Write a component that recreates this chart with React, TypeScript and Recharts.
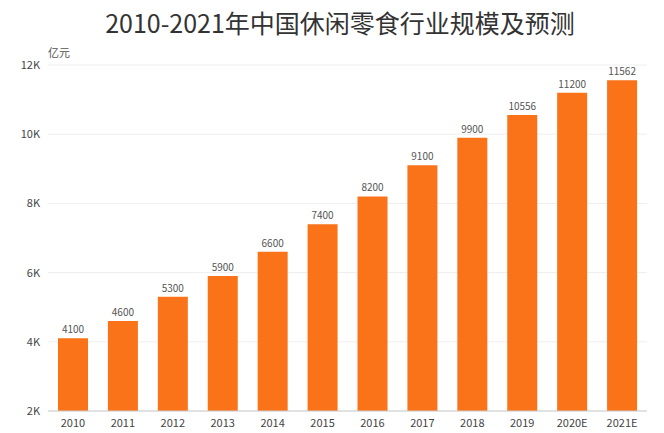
import { BarChart, Bar, XAxis, YAxis, CartesianGrid, LabelList } from 'recharts';

const years = ['2010', '2011', '2012', '2013', '2014', '2015', '2016', '2017', '2018', '2019', '2020E', '2021E'];
const scale = [4100, 4600, 5300, 5900, 6600, 7400, 8200, 9100, 9900, 10556, 11200, 11562];
const yTicks = [2000, 4000, 6000, 8000, 10000, 12000];

const data = years.map((y, i) => ({ year: y, value: scale[i] }));

export default function App() {
  return (
    <div style={{ position: 'absolute', left: 0, top: 0, width: 664, height: 433, background: '#fff', fontFamily: '"Noto Sans CJK SC", "Noto Sans", sans-serif' }}>
      <div style={{ position: 'absolute', top: 4, left: 0, width: 680, textAlign: 'center', fontSize: 25, color: '#333' }}>
        2010-2021年中国休闲零食行业规模及预测
      </div>
      <div style={{ position: 'absolute', top: 44, left: 48, fontSize: 11, color: '#555' }}>亿元</div>
      <BarChart width={664} height={433} data={data} margin={{ top: 65, right: 17, left: 8, bottom: 2 }} barCategoryGap={10}>
        <CartesianGrid vertical={false} stroke="#eeeeee" />
        <XAxis dataKey="year" tickLine={false} axisLine={{ stroke: '#ccc' }} tick={{ fontSize: 11, fill: '#444' }} height={20} />
        <YAxis domain={[2000, 12000]} ticks={yTicks} width={40} axisLine={false} tickLine={false}
          tickFormatter={(v: number) => `${v / 1000}K`} tick={{ fontSize: 11, fill: '#444' }} />
        <Bar dataKey="value" fill="#FA7319" isAnimationActive={false}>
          <LabelList dataKey="value" position="top" style={{ fontSize: 10, fill: '#555' }} />
        </Bar>
      </BarChart>
    </div>
  );
}
